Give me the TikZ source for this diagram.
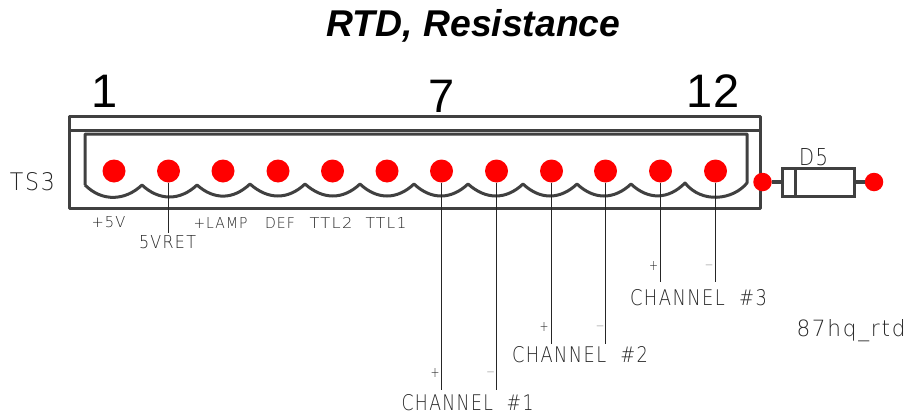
\documentclass[tikz,border=0pt]{standalone}
\usepackage{graphicx}
\usepackage{fontspec}
\setmainfont{Liberation Sans}
\newfontfamily\cad[LetterSpace=8]{DejaVu Sans ExtraLight}
\newcommand{\cadt}[3]{\resizebox{#1pt}{#2pt}{\cad #3}}
\tikzset{
  pin/.style={circle,fill=red,draw=none,minimum size=23pt,inner sep=0pt},
  tip/.style={circle,fill=red,draw=none,minimum size=18.5pt,inner sep=0pt},
  frameline/.style={draw=black!75,line width=3pt,line join=round},
  wire/.style={draw=black!85,line width=1.05pt},
  cadlabel/.style={inner sep=0pt,text=black!85},
  bignum/.style={inner sep=0pt,font=\fontsize{47}{47}\selectfont,text=black}
}
\begin{document}
\begin{tikzpicture}[x=1pt,y=-1pt]
\useasboundingbox (0,0) rectangle (909,415);
\node[inner sep=0pt,font=\fontsize{37.3}{38}\selectfont\bfseries\itshape] (title) at (473.5,26) {RTD, Resistance};
\node[bignum] (n1) at (105,91) {1};
\node[bignum] (n7) at (442,96) {7};
\node[bignum] (n12) at (713,91) {12};
% housing
\draw[frameline] (69.5,116.5) -- (760.5,116.5) -- (760.5,208.5) -- (69.5,208.5) -- cycle;
\draw[frameline] (69.5,130.5) -- (760.5,130.5);
\draw[frameline] (85,185) -- (85,134) -- (747,134) -- (747,183)
  .. controls (733,200) and (702,204) .. (685,183)
  .. controls (668,200) and (648,200) .. (631,184)
  .. controls (614,200) and (594,200) .. (577,184)
  .. controls (560,200) and (540,200) .. (523,184)
  .. controls (506,200) and (486,200) .. (468,184)
  .. controls (451,200) and (431,200) .. (414,184)
  .. controls (397,200) and (377,200) .. (360,184)
  .. controls (343,200) and (323,200) .. (305,184)
  .. controls (288,200) and (268,200) .. (250,184)
  .. controls (233,200) and (214,200) .. (197,185)
  .. controls (180,201) and (159,201) .. (142,185)
  .. controls (125,201) and (102,202) .. (85,185);
% pins
\foreach \i/\x in {1/114,2/168.5,3/223,4/278,5/332.5,6/387,7/441.5,8/496.5,9/551.5,10/605.5,11/660.5,12/715.5}
  \node[pin] (p\i) at (\x,171) {};
% wires
\coordinate (e2) at (168.5,233);
\coordinate (e7) at (441.5,390);
\coordinate (e8) at (496.5,390);
\coordinate (e9) at (551.5,344);
\coordinate (e10) at (605.5,344);
\coordinate (e11) at (660.5,282);
\coordinate (e12) at (715.5,282);
\foreach \i in {2,7,8,9,10,11,12} \draw[wire] (p\i.south) -- (e\i);
% diode
\node[tip] (ta) at (762.5,182) {};
\node[tip] (tb) at (874,182) {};
\node[draw=black!75,line width=3pt,minimum width=72pt,minimum height=28pt,inner sep=0pt] (body) at (818,182) {};
\coordinate (band1) at (795.5,168);
\coordinate (band2) at (795.5,196);
\draw[frameline,line width=3.4pt] (band1) -- (band2);
\draw[frameline,line width=3.4pt] (ta) -- (body);
\draw[frameline,line width=3.4pt] (tb) -- (body);
% labels
\node[cadlabel] (ts3) at (32.5,181.5) {\cadt{45}{18}{TS3}};
\node[cadlabel] (d5) at (813.5,157) {\cadt{29}{17}{D5}};
\node[cadlabel] (l1) at (108.5,222) {\cadt{34}{11}{+5V}};
\node[cadlabel] (l2) at (167.5,242) {\cadt{57}{13}{5VRET}};
\node[cadlabel] (l3) at (220.5,223) {\cadt{54}{11}{+LAMP}};
\node[cadlabel] (l4) at (280,223) {\cadt{30}{11}{DEF}};
\node[cadlabel] (l5) at (331,223) {\cadt{43}{11}{TTL2}};
\node[cadlabel] (l6) at (386,223) {\cadt{41}{11}{TTL1}};
\node[cadlabel] (c1) at (467.5,403) {\cadt{132}{16}{CHANNEL\ \ \#1}};
\node[cadlabel] (c2) at (580,355) {\cadt{136}{16}{CHANNEL\ \ \#2}};
\node[cadlabel] (c3) at (698.5,298) {\cadt{137}{16}{CHANNEL\ \ \#3}};
\node[cadlabel] (hq) at (851,331) {\cadt{109}{17}{87hq\_rtd}};
\node[cadlabel] (s7) at (435,373) {\cadt{9}{9}{+}};
\node[cadlabel] (s8) at (490.5,373) {\cadt{9}{2.2}{-}};
\node[cadlabel] (s9) at (544,327) {\cadt{9}{9}{+}};
\node[cadlabel] (s10) at (600,327) {\cadt{9}{2.2}{-}};
\node[cadlabel] (s11) at (653.5,266) {\cadt{9}{9}{+}};
\node[cadlabel] (s12) at (709,266) {\cadt{9}{2.2}{-}};
\end{tikzpicture}
\end{document}
